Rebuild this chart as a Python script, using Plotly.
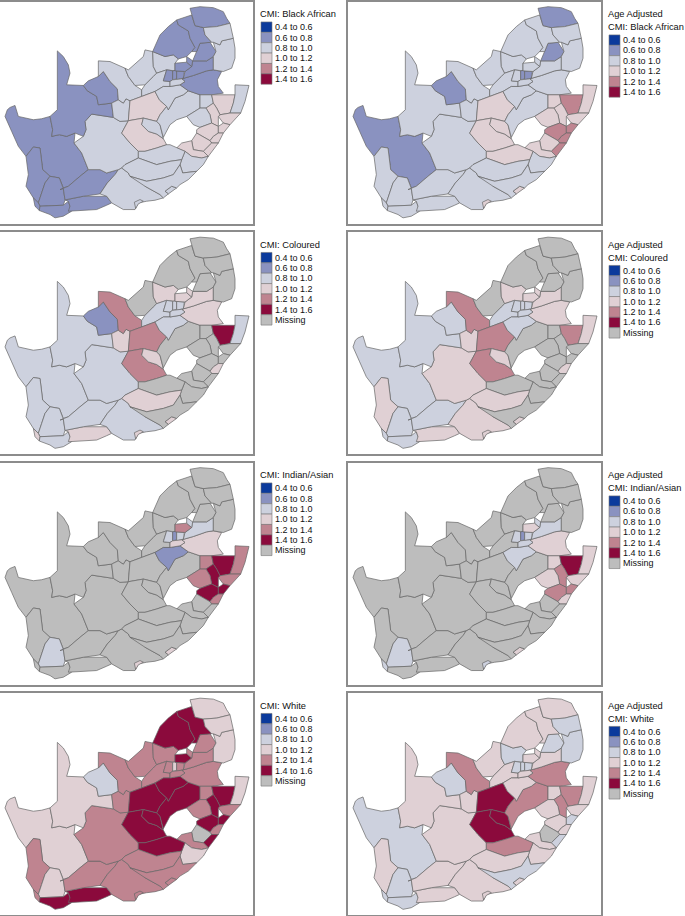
import plotly.graph_objects as go

# District outlines in map units (x east, y south)
district_names = ["Namakwa","WestCoast","Winelands","CapeTown","Overberg","Eden","CentralKaroo","Cacadu","NMB","BuffaloCity",
"Pixley","Siyanda","JTG","FrancesBaard","RSM","NMM","Bojanala","Kaunda","Lejweleputswa","Xhariep","Motheo","ThaboM","FezileDabi",
"GertSibande","Nkangala","Sekhukhune","Ehlanzeni","Waterberg","Capricorn","Vhembe","Mopani","WestRand","Johannesburg","Ekurhuleni",
"Tshwane","Metsweding","Sedibeng","Amajuba","Zululand","Umkhanyakude","Uthungulu","Umzinyathi","Uthukela","Umgungundlovu","Ilembe",
"eThekwini","Sisonke","Ugu","AlfredNzo","ORTambo","JoeGqabi","ChrisHani","Amathole"]

district_outlines = [
[(15,345),(22,325),(30,318),(45,312),(55,345),(75,350),(100,355),(125,352),(150,345),(158,385),(155,405),(178,400),(200,405),(225,395),(222,425),(245,455),(265,505),(240,525),(205,555),(190,560),(178,530),(150,525),(128,505),(120,440),(100,437),(78,465),(55,435),(35,390)],
[(78,465),(100,437),(120,440),(128,505),(150,525),(135,545),(125,575),(115,605),(100,590),(78,555),(85,520)],
[(135,545),(150,525),(178,530),(190,562),(195,596),(190,612),(120,615),(115,605),(125,575)],
[(100,590),(115,605),(120,615),(118,628),(105,615)],
[(120,615),(190,612),(205,600),(210,615),(215,630),(190,645),(165,650),(150,640),(118,628)],
[(195,596),(250,585),(320,585),(335,605),(320,612),(290,625),(240,628),(205,630),(210,615),(205,600)],
[(180,565),(205,555),(240,525),(265,505),(300,505),(320,515),(355,505),(345,520),(322,545),(300,578),(250,585),(195,596),(190,562)],
[(300,578),(322,545),(345,520),(355,505),(365,500),(385,515),(390,525),(440,540),(435,555),(480,580),(490,590),(465,597),(440,600),(415,605),(405,625),(370,625),(335,605),(320,585)],
[(403,603),(420,595),(430,600),(415,608),(407,622)],
[(495,570),(515,555),(530,560),(505,578)],
[(222,425),(250,405),(258,385),(255,360),(275,338),(340,348),(360,360),(385,358),(365,395),(390,425),(415,450),(415,470),(375,490),(365,500),(355,505),(320,515),(300,505),(265,505),(245,455)],
[(172,148),(190,165),(205,190),(210,215),(200,250),(250,252),(262,268),(290,285),(295,310),(335,305),(340,348),(275,338),(255,360),(258,385),(250,405),(225,395),(200,405),(178,400),(155,405),(158,385),(150,345),(172,325)],
[(250,252),(265,238),(295,225),(310,210),(330,240),(352,262),(355,295),(335,305),(295,310),(290,285),(262,268)],
[(335,305),(355,295),(370,305),(378,292),(390,298),(385,358),(360,360),(340,348)],
[(295,225),(295,178),(330,180),(375,200),(385,225),(405,252),(425,265),(425,285),(390,298),(378,292),(370,305),(355,295),(352,262),(330,240),(310,210)],
[(375,200),(385,205),(430,165),(435,145),(458,150),(460,195),(470,215),(460,225),(435,250),(405,252),(385,225)],
[(458,150),(495,165),(520,160),(535,172),(525,185),(525,208),(500,205),(470,215),(460,195)],
[(425,265),(435,250),(460,225),(470,215),(500,205),(490,238),(510,240),(510,255),(490,255),(465,270),(425,285)],
[(385,358),(390,298),(425,285),(465,270),(478,295),(500,315),(480,340),(470,360),(430,350)],
[(365,395),(385,358),(430,350),(425,370),(445,390),(470,398),(490,412),(500,430),(470,440),(435,450),(415,450),(390,425)],
[(430,350),(470,360),(480,370),(490,412),(470,398),(445,390),(425,370)],
[(500,315),(505,325),(525,290),(550,280),(565,268),(600,280),(600,320),(560,345),(530,355),(510,370),(490,408),(480,370),(470,360),(480,340)],
[(465,270),(490,255),(510,255),(540,250),(565,268),(550,280),(525,290),(505,325),(500,315),(478,295)],
[(540,250),(555,240),(545,232),(580,222),(620,208),(640,205),(665,210),(652,235),(655,255),(670,275),(635,280),(600,280),(565,268)],
[(550,230),(555,210),(575,195),(578,178),(620,178),(640,165),(640,205),(620,208),(580,222),(545,232)],
[(578,178),(590,150),(600,125),(630,122),(648,150),(640,165),(620,178)],
[(640,122),(660,130),(665,118),(700,110),(705,140),(705,170),(695,200),(670,210),(640,205),(640,165),(648,150)],
[(458,150),(480,100),(505,75),(530,55),(535,70),(565,88),(570,110),(585,138),(575,150),(560,165),(535,172),(520,160),(495,165)],
[(530,55),(575,40),(585,72),(610,78),(615,100),(635,122),(600,125),(590,150),(575,150),(585,138),(570,110),(565,88),(535,70)],
[(570,20),(600,15),(640,18),(670,30),(680,50),(690,65),(650,75),(610,78),(585,72),(575,40)],
[(610,78),(650,75),(690,65),(700,110),(665,118),(660,130),(640,122),(635,122),(615,100)],
[(490,238),(500,205),(518,208),(518,235),(510,240)],
[(518,208),(530,206),(530,232),(518,235)],
[(530,208),(553,210),(550,230),(530,235)],
[(525,185),(560,182),(575,195),(555,210),(525,208)],
[(560,165),(578,178),(575,195),(560,182)],
[(510,240),(518,235),(545,232),(555,240),(540,250),(510,255)],
[(600,280),(635,280),(640,305),(618,320),(600,320)],
[(635,280),(705,280),(700,305),(690,335),(660,340),(650,320),(640,305)],
[(705,250),(747,252),(735,300),(722,335),(690,335),(700,305),(705,280)],
[(655,345),(660,340),(690,335),(722,335),(690,370),(670,365)],
[(618,320),(640,305),(650,320),(660,340),(655,345),(655,375),(635,365),(630,340)],
[(560,345),(600,320),(618,320),(630,340),(635,365),(600,378),(580,370)],
[(590,385),(600,378),(635,365),(655,375),(655,395),(640,405),(630,418),(590,395)],
[(655,375),(670,365),(690,370),(670,395),(655,395)],
[(640,405),(655,395),(670,395),(655,425),(635,425),(630,418)],
[(575,418),(590,395),(630,418),(635,425),(610,450),(580,445)],
[(610,450),(635,425),(655,425),(625,465)],
[(530,440),(545,425),(575,418),(580,445),(610,450),(625,465),(605,470),(575,465),(555,450)],
[(555,450),(575,465),(605,470),(625,465),(610,490),(590,510),(548,515),(540,490),(545,475)],
[(415,450),(435,450),(470,440),(500,430),(510,430),(530,440),(555,450),(545,475),(510,480),(470,490),(415,470)],
[(375,490),(415,470),(470,490),(510,480),(545,475),(540,490),(520,520),(490,530),(440,540),(390,525),(385,515),(365,500)],
[(390,525),(440,540),(490,530),(520,520),(540,490),(548,515),(590,510),(565,535),(540,550),(530,560),(515,555),(495,570),(505,578),(490,590),(480,580),(435,555)],
]

# Representative CMI per district (bin midpoints), None = Missing
cmi_black = [.7,.7,.7,.7,.7,.7,.7,.9,.9,.9,.9,.7,.7,.9,.9,.9,.9,.9,1.1,1.1,.9,.9,.9,.7,.7,.7,.9,.7,.7,.7,.9,.7,.7,.7,.7,.7,.9,.9,1.1,.9,1.1,1.1,.9,1.1,1.1,1.1,1.1,1.1,1.1,.9,.9,.9,.9]
adj_black = [.7,.9,.9,.9,.9,.9,.9,.9,1.1,1.1,.9,.9,.7,.9,.9,.9,.9,.9,1.1,1.1,1.1,.9,.9,.9,.9,.7,.9,.9,.9,.7,.9,.9,.7,.7,.9,.9,.9,1.1,1.3,1.1,1.1,1.1,1.1,1.3,1.3,1.3,1.1,1.3,1.1,.9,1.1,.9,.9]
N = None
cmi_coloured = [.9,.9,.9,1.1,.9,1.1,.9,.9,1.1,1.1,.9,.9,.7,1.1,1.3,N,1.1,.9,1.3,1.3,1.1,N,.9,1.1,1.1,N,N,N,N,N,N,.9,.9,.9,1.1,1.1,.9,N,1.5,.9,N,N,N,N,N,1.1,N,N,N,N,N,1.1,N]
adj_coloured = [.9,1.1,.9,.9,.9,1.1,.9,1.1,1.1,1.1,1.1,.9,.9,1.1,1.3,N,1.1,.9,1.3,1.3,1.1,N,.9,1.1,1.1,N,N,N,N,N,N,.9,.9,.9,1.1,1.1,.9,N,1.3,1.1,N,N,N,N,N,1.1,N,N,N,N,N,1.1,N]
cmi_indian = [N,N,.9,N,N,N,N,N,1.1,1.1,N,N,N,N,N,N,N,N,N,N,N,N,.7,1.1,.9,N,N,N,N,N,N,.9,.7,.9,1.3,.9,1.1,1.3,1.5,1.3,1.3,1.5,1.3,1.5,1.5,1.3,N,N,N,N,N,N,N]
adj_indian = [N,N,.9,.9,N,N,N,N,.9,1.1,N,N,N,N,N,N,N,N,N,N,N,N,.9,1.1,.9,N,N,N,N,N,N,.9,.7,.9,1.1,.9,.9,1.1,1.5,1.1,1.1,1.3,1.1,1.3,1.3,1.1,N,N,N,N,N,N,N]
cmi_white = [1.1,1.3,1.1,1.3,1.5,1.5,1.3,1.3,1.3,1.3,1.3,1.1,.9,1.3,1.3,1.3,1.3,1.3,1.5,1.5,1.5,1.5,1.5,1.3,1.3,1.3,1.1,1.5,1.5,1.1,1.1,1.3,1.1,1.3,1.5,1.3,1.3,1.3,1.5,1.1,1.3,1.5,1.3,1.5,1.5,1.3,N,1.5,1.3,1.1,1.5,1.3,1.3]
adj_white = [.9,1.1,.9,.9,.9,1.1,1.1,1.1,1.1,1.1,1.1,1.1,.9,1.1,1.3,1.1,.9,1.1,1.5,1.5,1.5,1.3,1.1,1.3,1.1,.9,.9,1.1,1.1,1.1,.9,.9,.9,.9,1.1,1.1,1.1,1.1,1.3,1.1,1.1,1.3,1.1,1.1,.9,1.1,N,.9,1.1,1.1,1.3,1.1,.9]

bin_labels = ["0.4 to 0.6","0.6 to 0.8","0.8 to 1.0","1.0 to 1.2","1.2 to 1.4","1.4 to 1.6"]
bin_colors = ["#0b3a9c","#8a92c0","#cdd1de","#e0d0d4","#bf8490","#8b0a3c"]
missing_color = "#bdbdbd"
missing_label = "Missing"

panels = [
 (["CMI: Black African"], cmi_black, False),
 (["Age Adjusted","CMI: Black African"], adj_black, False),
 (["CMI: Coloured"], cmi_coloured, True),
 (["Age Adjusted","CMI: Coloured"], adj_coloured, True),
 (["CMI: Indian/Asian"], cmi_indian, True),
 (["Age Adjusted","CMI: Indian/Asian"], adj_indian, True),
 (["CMI: White"], cmi_white, True),
 (["Age Adjusted","CMI: White"], adj_white, True),
]

W, H = 685, 916
lefts = [0, 348]
tops = [0, 231, 462, 693]
PW, PH = 253, 222
XR, YR = [0, 759], [667, 1]

def color_of(v):
    if v is None:
        return missing_color
    return bin_colors[min(int((v - 0.4) / 0.2), 5)]

fig = go.Figure()
shapes, annots = [], []
layout = {}
title_font = dict(family="Liberation Sans, Arial", size=9.3, color="#111111")
label_font = dict(family="Liberation Sans, Arial", size=9, color="#111111")

for i, (titles, values, has_missing) in enumerate(panels):
    col, row = i % 2, i // 2
    L, T = lefts[col], tops[row]
    sfx = "" if i == 0 else str(i + 1)
    axis = dict(showgrid=False, zeroline=False, showticklabels=False, ticks="", showline=True, mirror=True,
                linecolor="#8c8c8c", linewidth=1.5)
    layout["xaxis" + sfx] = dict(domain=[L / W, (L + PW) / W], range=XR, anchor="y" + sfx, **axis)
    layout["yaxis" + sfx] = dict(domain=[1 - (T + PH) / H, 1 - T / H], range=YR, anchor="x" + sfx, **axis)
    for name, poly, v in zip(district_names, district_outlines, values):
        xs = [p[0] for p in poly] + [poly[0][0]]
        ys = [p[1] for p in poly] + [poly[0][1]]
        fig.add_trace(go.Scatter(x=xs, y=ys, mode="lines", fill="toself", fillcolor=color_of(v),
                                 line=dict(color="#666666", width=0.7), name=name, showlegend=False, hoverinfo="name",
                                 xaxis="x" + sfx, yaxis="y" + sfx))
    lx = L + 261
    for k, t in enumerate(titles):
        annots.append(dict(text=t, x=(lx - 3) / W, y=1 - (T + 12.5 + 13 * k) / H, xref="paper", yref="paper", xanchor="left",
                           yanchor="middle", showarrow=False, font=title_font))
    sy = T + (20 if len(titles) == 1 else 33)
    labels = bin_labels + ([missing_label] if has_missing else [])
    colors = bin_colors + ([missing_color] if has_missing else [])
    for k, (lab, c) in enumerate(zip(labels, colors)):
        y0 = sy + k * 10.4
        shapes.append(dict(type="rect", xref="paper", yref="paper", x0=lx / W, x1=(lx + 11) / W, y0=1 - y0 / H, y1=1 - (y0 + 10.4) / H,
                           fillcolor=c, line=dict(color="#777777", width=0.6)))
        annots.append(dict(text=lab, x=(lx + 12) / W, y=1 - (y0 + 5.2) / H, xref="paper", yref="paper", xanchor="left",
                           yanchor="middle", showarrow=False, font=label_font))

fig.update_layout(width=W, height=H, margin=dict(l=0, r=0, t=0, b=0), paper_bgcolor="white", plot_bgcolor="white",
                  shapes=shapes, annotations=annots, showlegend=False, **layout)
fig.write_html("out.html", post_script="document.body.style.margin='0';", config={"displayModeBar": False})
